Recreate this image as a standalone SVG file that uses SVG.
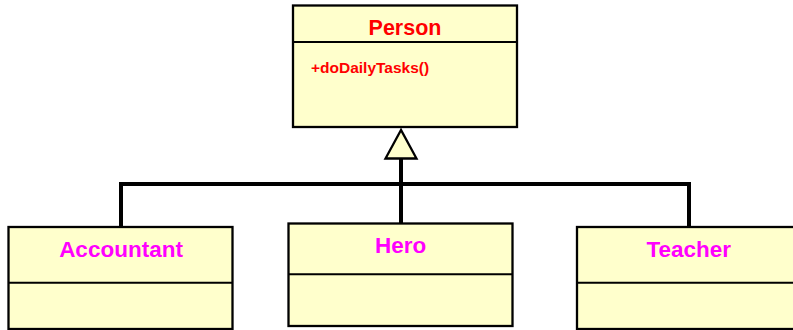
<svg xmlns="http://www.w3.org/2000/svg" width="793" height="330" viewBox="0 0 793 330">
<style>
.box{fill:#FFFFCC;stroke:#000;stroke-width:2.3}
.div{stroke:#000;stroke-width:2;fill:none}
.title{font-family:"Liberation Sans",Arial,sans-serif;font-weight:bold;text-anchor:middle}
.red{fill:#FF0000}
.mag{fill:#FF00FF}
.conn{fill:none;stroke:#000;stroke-width:4;stroke-linejoin:miter}
</style>
<rect width="793" height="330" fill="#FFFFFF"/>
<g id="connectors">
<path class="conn" d="M121,227 V184 H689 V227"/>
<path class="conn" d="M401,158 V224"/>
<polygon points="401,130 385.5,158.5 416.5,158.5" fill="#FFFFCC" stroke="#000" stroke-width="2.3"/>
</g>
<g id="Person">
<rect class="box" x="293" y="5.5" width="224" height="121.5"/>
<line class="div" x1="293" y1="42" x2="517" y2="42"/>
<text class="title red" x="405" y="35" font-size="21.5">Person</text>
<text x="311" y="72.5" font-family="'Liberation Sans',Arial,sans-serif" font-weight="bold" font-size="15.5" fill="#FF0000">+doDailyTasks()</text>
</g>
<g id="Accountant">
<rect class="box" x="8.5" y="227" width="224" height="102"/>
<line class="div" x1="8.5" y1="282.7" x2="232.5" y2="282.7"/>
<text class="title mag" x="121" y="257.3" font-size="22.5">Accountant</text>
</g>
<g id="Hero">
<rect class="box" x="288.5" y="223.5" width="224" height="102.5"/>
<line class="div" x1="288.5" y1="274.3" x2="512.5" y2="274.3"/>
<text class="title mag" x="400.7" y="253.3" font-size="22.5">Hero</text>
</g>
<g id="Teacher">
<rect class="box" x="577" y="227" width="224" height="102"/>
<line class="div" x1="577" y1="282.7" x2="801" y2="282.7"/>
<text class="title mag" x="688.7" y="257.3" font-size="22.5">Teacher</text>
</g>
</svg>
